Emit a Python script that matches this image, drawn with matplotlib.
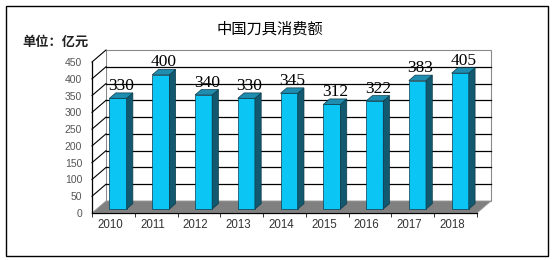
import matplotlib
matplotlib.use("Agg")
import matplotlib.pyplot as plt
from matplotlib.patches import Polygon, Rectangle
import numpy as np

years = ["2010", "2011", "2012", "2013", "2014", "2015", "2016", "2017", "2018"]
values = [330, 400, 340, 330, 345, 312, 322, 383, 405]
yticks = [0, 50, 100, 150, 200, 250, 300, 350, 400, 450]
title = "中国刀具消费额"
unit_label = "单位：亿元"

W, H = 554, 260
fig = plt.figure(figsize=(W / 100, H / 100), dpi=100)
fig.patch.set_facecolor("white")

# axes placed in pixel layout (front plane of the 3D box)
L, R, T, B = 92, 477, 62, 213
ax = fig.add_axes([L / W, (H - B) / H, (R - L) / W, (B - T) / H])
ax.set_xlim(-0.5, len(years) - 0.5)
ax.set_ylim(0, 450)
ax.patch.set_visible(False)

# depth vector in data units (14 px right, 12 px up)
pxx = (R - L) / len(years)
pxy = (B - T) / 450.0
Dx, Dy = 14 / pxx, 12 / pxy
x0, x1 = -0.5, len(years) - 0.5
ymax = yticks[-1]

# back wall
ax.add_patch(Polygon([(x0 + Dx, Dy), (x1 + Dx, Dy), (x1 + Dx, ymax + Dy), (x0 + Dx, ymax + Dy)],
                     closed=True, facecolor="white", edgecolor="#8a8a8a", lw=0.8,
                     clip_on=False, zorder=1))
# left wall
ax.add_patch(Polygon([(x0, 0), (x0 + Dx, Dy), (x0 + Dx, ymax + Dy), (x0, ymax)],
                     closed=True, facecolor="white", edgecolor="none", clip_on=False, zorder=1))
for v in yticks[1:]:
    if v < ymax:
        ax.plot([x0 + Dx, x1 + Dx], [v + Dy, v + Dy], color="black", lw=0.9,
                clip_on=False, zorder=2)
    ax.plot([x0, x0 + Dx], [v, v + Dy], color="black", lw=0.8, clip_on=False, zorder=2)

# floor
ax.add_patch(Polygon([(x0, 0), (x1, 0), (x1 + Dx, Dy), (x0 + Dx, Dy)], closed=True,
                     facecolor="#808080", edgecolor="#9a9a9a", lw=0.6, clip_on=False, zorder=3))

# bars
t0, t1 = 0.33, 0.78
bw = 0.4
xs = np.arange(len(years))
fx = xs + t0 * Dx
fy0 = t0 * Dy
ddx, ddy = (t1 - t0) * Dx, (t1 - t0) * Dy
front_c, side_c, top_c, edge_c = "#0BC6F5", "#12596F", "#1F8DAF", "#0B3B4C"
ax.bar(fx, values, bottom=fy0, width=bw, color=front_c, edgecolor=edge_c, lw=0.5,
       zorder=5, clip_on=False)
for xc, v in zip(fx, values):
    xl, xr = xc - bw / 2, xc + bw / 2
    yt = v + fy0
    ax.add_patch(Polygon([(xr, fy0), (xr + ddx, fy0 + ddy), (xr + ddx, yt + ddy), (xr, yt)],
                         closed=True, facecolor=side_c, edgecolor=edge_c, lw=0.5,
                         clip_on=False, zorder=5))
    ax.add_patch(Polygon([(xl, yt), (xr, yt), (xr + ddx, yt + ddy), (xl + ddx, yt + ddy)],
                         closed=True, facecolor=top_c, edgecolor=edge_c, lw=0.5,
                         clip_on=False, zorder=5))
    ax.annotate(str(v), (xc + ddx / 2, yt), xytext=(0, 6), textcoords="offset points",
                ha="center", va="baseline", fontsize=12.5, family="Liberation Serif",
                color="black", zorder=6, annotation_clip=False)

# axes styling
for s in ["top", "right"]:
    ax.spines[s].set_visible(False)
ax.spines["left"].set_color("black")
ax.spines["bottom"].set_color("black")
ax.spines["left"].set_linewidth(0.9)
ax.spines["bottom"].set_linewidth(0.9)
ax.spines["left"].set_zorder(4)
ax.spines["bottom"].set_zorder(4)
ax.set_yticks(yticks)
ax.set_yticklabels([str(v) for v in yticks], family="Liberation Sans", fontsize=7.5,
                   color="#555555")
ax.tick_params(axis="y", length=0, pad=7)
ax.set_xticks(np.arange(len(years) + 1) - 0.5)
ax.set_xticklabels([])
ax.tick_params(axis="x", which="major", length=3, width=0.7, color="#333333", direction="out")
ax.set_xticks(xs - 0.08, minor=True)
ax.set_xticklabels(years, minor=True, family="Liberation Sans", fontsize=8.3, color="#333333")
ax.tick_params(axis="x", which="minor", length=0, pad=4)

# titles
fig.text(270 / W, 1 - 29 / H, title, ha="center", va="center", fontsize=11,
         family=["Noto Sans CJK SC", "DejaVu Sans"], color="black")
fig.text(22 / W, 1 - 42 / H, unit_label, ha="left", va="center", fontsize=9.5,
         fontweight="bold", family=["Noto Sans CJK SC", "DejaVu Sans"], color="#222222")

# outer border
fig.add_artist(Rectangle((6 / W, 1 - 256 / H), (548 - 6) / W, (256 - 6) / H,
                         transform=fig.transFigure, fill=False, edgecolor="black", lw=1.0))

fig.savefig("out.png", dpi=100)
